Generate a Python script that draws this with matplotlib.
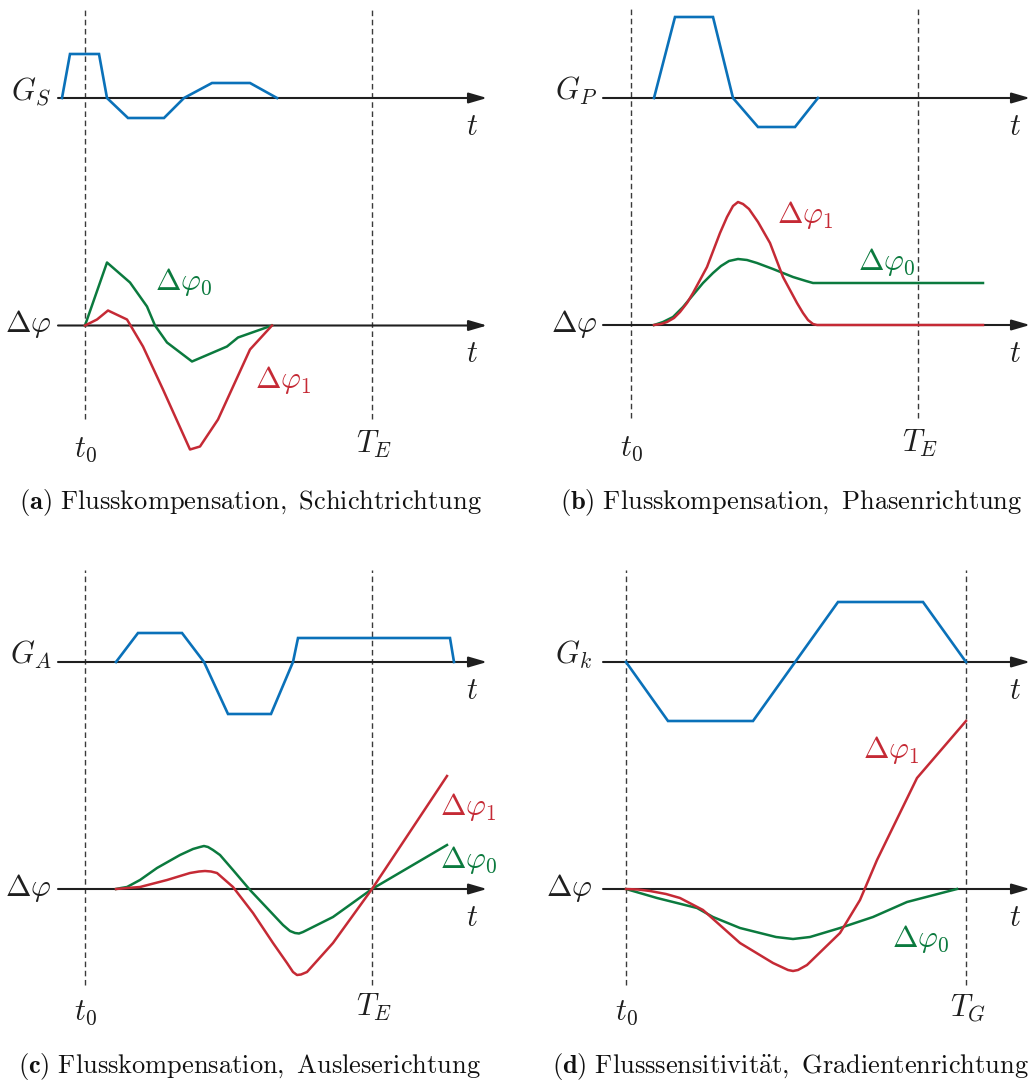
import matplotlib.pyplot as plt

plt.rcParams['mathtext.fontset'] = 'cm'
plt.rcParams['font.family'] = ['cmr10', 'DejaVu Serif']

W, H = 1033, 1082
BLUE = '#0a71b9'
RED = '#c52a35'
GREEN = '#0b7a3e'
AXIS = '#1f1f1f'
DASH = '#3a3a3a'

# (a) slice direction: gradient and phase, t measured from t0
a_g_t = [-23, -15, 14, 22, 43, 79, 99, 127, 165, 192]
a_g_v = [0, 44, 44, 0, -20, -20, 0, 15, 15, 0]
a_phi0_t = [0, 22, 45, 62, 70, 82, 107, 142, 153, 187]
a_phi0_v = [0, 63, 43, 19, 0, -17, -36, -21, -12, 0]
a_phi1_t = [0, 12, 23, 42, 58, 78, 105, 115, 133, 165, 187]
a_phi1_v = [0, 6, 15, 6, -21, -64, -124, -121, -94, -24, 0]

# (b) phase direction
b_g_t = [23, 44, 82, 102, 127, 164, 187]
b_g_v = [0, 81, 81, 0, -29, -29, 0]
b_phi0_t = [23, 32, 42, 52, 62, 72, 82, 90, 98, 107, 116, 126, 142, 162, 175, 182, 352]
b_phi0_v = [0, 3, 8, 18, 30, 42, 52, 59, 64, 66, 65, 62, 56, 48, 44, 42, 42]
b_phi1_t = [23, 30, 36, 43, 49, 56, 62, 69, 76, 89, 96, 102, 107, 112, 118, 127,
            139, 152, 166, 172, 177, 182, 186, 352]
b_phi1_v = [0, 1, 3, 7, 13, 22, 32, 45, 58, 92, 108, 119, 123, 121, 116, 103,
            82, 48, 22, 12, 5, 1, 0, 0]

# (c) readout direction
c_g_t = [31, 53, 97, 119, 143, 186, 208, 213, 365, 369]
c_g_v = [0, 29, 29, 0, -52, -52, 0, 24, 24, 0]
c_phi0_t = [31, 36, 42, 55, 72, 95, 108, 115, 119, 123, 128, 135, 148, 165, 182,
            198, 205, 210, 214, 218, 248, 287, 362]
c_phi0_v = [0, 1, 2, 9, 21, 34, 40, 42, 43, 42, 39, 34, 19, -1, -19,
            -36, -42, -44, -44.5, -43, -28, 0, 44]
c_phi1_t = [31, 42, 55, 82, 105, 114, 120, 126, 132, 148, 168, 188, 202, 208,
            212, 216, 222, 248, 287, 362]
c_phi1_v = [0, 1, 2, 9, 16, 17.5, 18, 17.5, 16, 2, -24, -54, -74, -83,
            -86, -85.5, -83, -54, 0, 113]

# (d) flow sensitivity, gradient direction
d_g_t = [0, 42, 127, 212, 297, 340]
d_g_v = [0, -59, -59, 60, 60, 0]
d_phi0_t = [0, 31, 71, 87, 114, 150, 167, 184, 214, 247, 281, 331]
d_phi0_v = [0, -9, -19, -28, -39, -48, -50, -48, -39, -28, -13, 0]
d_phi1_t = [0, 12, 24, 40, 54, 77, 114, 147, 162, 167, 172, 181, 214, 234, 251,
            291, 340]
d_phi1_v = [0, -0.5, -2, -5, -9, -21, -54, -74, -81, -82, -81, -76, -44, -11, 29,
            111, 168]

g_labels = [r'$G_S$', r'$G_P$', r'$G_A$', r'$G_k$']
end_labels = [r'$T_E$', r'$T_E$', r'$T_E$', r'$T_G$']
captions = [
    r'$\mathbf{(a)}\ \mathrm{Flusskompensation,\ Schichtrichtung}$',
    r'$\mathbf{(b)}\ \mathrm{Flusskompensation,\ Phasenrichtung}$',
    r'$\mathbf{(c)}\ \mathrm{Flusskompensation,\ Ausleserichtung}$',
    r'$\mathbf{(d)}\ \mathrm{Flusssensitivit\ddot{a}t,\ Gradientenrichtung}$',
]

FS = 22
FS_CAP = 19


def panel(fig, t0, base, g_off, t_end, ax_start, ax_tip, top, bottom,
          g, phi0, phi1, g_label, end_label, caption, cap_x,
          lab0, lab1):
    ax = fig.add_axes([0, 0, 1, 1])
    ax.set_xlim(-t0, W - t0)
    ax.set_ylim(base - H, base)
    ax.axis('off')

    for x in (0, t_end):
        ax.plot([x, x], [bottom, top], color=DASH, lw=1.0,
                dashes=(4, 2.6), zorder=1)

    for y in (g_off, 0):
        ax.annotate('', xy=(ax_tip, y), xytext=(ax_start, y),
                    arrowprops=dict(arrowstyle='-|>,head_length=1.1,head_width=0.32',
                                    color=AXIS, lw=1.5, shrinkA=0, shrinkB=0),
                    zorder=2)
        ax.text(ax_tip - 15, y - 37, r'$t$', fontsize=FS, ha='center',
                va='baseline', color=AXIS)

    ax.plot(g[0], [v + g_off for v in g[1]], color=BLUE, lw=1.9, zorder=3,
            solid_joinstyle='miter')
    ax.plot(phi0[0], phi0[1], color=GREEN, lw=1.8, zorder=3,
            solid_joinstyle='round')
    ax.plot(phi1[0], phi1[1], color=RED, lw=1.8, zorder=4,
            solid_joinstyle='round')

    ax.text(-34, g_off - 2, g_label, fontsize=FS, ha='right', va='baseline', color=AXIS)
    ax.text(-34, -7, r'$\Delta\varphi$', fontsize=FS, ha='right', va='baseline', color=AXIS)
    ax.text(lab0[0], lab0[1], r'$\Delta\varphi_0$', fontsize=FS, color=GREEN, va='baseline')
    ax.text(lab1[0], lab1[1], r'$\Delta\varphi_1$', fontsize=FS, color=RED, va='baseline')

    ax.text(0, -131, r'$t_0$', fontsize=FS, ha='center', va='baseline', color=AXIS)
    ax.text(t_end + 2, -127, end_label, fontsize=FS, ha='center', va='baseline', color=AXIS)
    ax.text(cap_x, -184, caption, fontsize=FS_CAP, ha='center', va='baseline', color='#111111')


fig = plt.figure(figsize=(W / 100, H / 100), dpi=100)

panel(fig, 85, 325.5, 227.5, 287, -27, 402, 317, -93,
      (a_g_t, a_g_v), (a_phi0_t, a_phi0_v), (a_phi1_t, a_phi1_v),
      g_labels[0], end_labels[0], captions[0], 165, (70, 35), (170, -62))
panel(fig, 631, 325, 227, 287, -28, 399, 317, -93,
      (b_g_t, b_g_v), (b_phi0_t, b_phi0_v), (b_phi1_t, b_phi1_v),
      g_labels[1], end_labels[1], captions[1], 160, (227, 55), (146, 102))
panel(fig, 85, 889, 227, 287, -27, 402, 319, -96,
      (c_g_t, c_g_v), (c_phi0_t, c_phi0_v), (c_phi1_t, c_phi1_v),
      g_labels[2], end_labels[2], captions[2], 164, (355, 21), (355, 74))
panel(fig, 626, 889, 227, 340, -23, 404, 319, -96,
      (d_g_t, d_g_v), (d_phi0_t, d_phi0_v), (d_phi1_t, d_phi1_v),
      g_labels[3], end_labels[3], captions[3], 164, (266, -58), (237, 131))

fig.savefig('out.png', dpi=100)
